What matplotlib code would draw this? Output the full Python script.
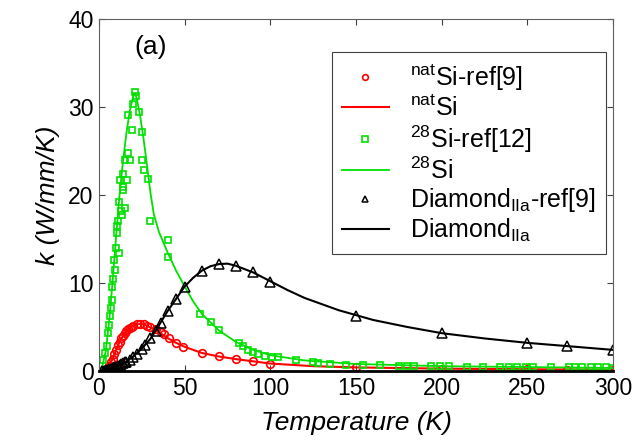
import numpy as np
import matplotlib
matplotlib.use("Agg")
import matplotlib.pyplot as plt

plt.rcParams.update({
    "font.family": "Liberation Sans",
    "mathtext.fontset": "custom",
    "mathtext.rm": "Liberation Sans",
    "mathtext.it": "Liberation Sans:italic",
    "mathtext.default": "rm",
})

RED = "#FF0000"
GREEN = "#00E000"
BLACK = "#000000"

# natSi, ref [9]
natsi_T_ref = [2, 3, 4, 5, 6, 7, 8, 9, 10, 11, 12, 13, 14, 15, 16, 17, 18, 19, 20,
               22, 24, 26, 28, 30, 33, 36, 38, 41, 45, 49, 60, 70, 80, 90, 100,
               150, 200, 250, 273, 300]
natsi_k_ref = [0.04, 0.1, 0.2, 0.32, 0.6, 1.0, 1.4, 1.9, 2.4, 2.9, 3.3, 3.7, 4.0, 4.3,
               4.55, 4.75, 4.9, 5.05, 5.15, 5.3, 5.35, 5.3, 5.15, 4.95, 4.8, 4.4, 4.2,
               3.7, 3.2, 2.75, 2.0, 1.65, 1.35, 1.1, 0.8, 0.41, 0.27, 0.2, 0.17, 0.15]

# natSi model
natsi_T = [0, 2, 4, 6, 8, 10, 12, 14, 16, 18, 20, 22, 24, 26, 28, 30, 35, 40, 45,
           50, 60, 70, 80, 90, 100, 125, 150, 200, 250, 300]
natsi_k = [0, 0.05, 0.2, 0.6, 1.4, 2.4, 3.3, 4.0, 4.55, 4.9, 5.15, 5.3, 5.35, 5.3,
           5.15, 4.95, 4.4, 3.75, 3.2, 2.75, 2.05, 1.65, 1.35, 1.1, 0.85, 0.55, 0.41,
           0.27, 0.2, 0.15]

# 28Si, ref [12]
si28_T_ref = [2.5, 3.5, 4.5, 5.4, 6.0, 6.4, 7.0, 7.4, 7.8, 8.3, 8.8, 9.3, 9.8, 10.3,
              10.8, 11.3, 11.9, 11.9, 12.3, 12.8, 13.2, 13.8, 13.8, 14.2, 15.2, 15.2,
              16.2, 17.1, 17.1, 18.1, 19.1, 19.7, 21.0, 21.4, 23.2, 25.3, 25.3, 26.3,
              28.6, 29.8, 40.5, 40.4, 59, 65.2, 70, 81.9, 84.2, 87.2, 90, 93, 97,
              100.8, 104.7, 114.8, 125, 128, 135, 144, 154, 164, 175, 180, 184, 194,
              199, 204, 215, 224, 234, 239, 244, 249, 253, 264, 274, 278, 282, 287,
              291, 296, 300]
si28_k_ref = [1.25, 2.0, 2.8, 4.3, 5.2, 6.2, 7.2, 9.6, 8.1, 10.5, 12.6, 11.5, 14.0, 15.7,
              16.5, 17.0, 13.4, 19.2, 21.7, 18.2, 17.7, 20.9, 22.4, 20.6, 18.5, 24.0,
              21.7, 24.8, 29.1, 24.0, 27.4, 30.3, 31.7, 31.2, 29.4, 27.1, 24.0, 22.8,
              21.8, 17.0, 14.9, 13.0, 6.5, 5.6, 4.7, 3.2, 2.8, 2.4, 2.2, 1.9, 1.7,
              1.6, 1.55, 1.3, 1.0, 0.95, 0.8, 0.7, 0.7, 0.65, 0.6, 0.6, 0.6, 0.55,
              0.55, 0.55, 0.5, 0.5, 0.5, 0.5, 0.5, 0.5, 0.5, 0.5, 0.4, 0.4, 0.4, 0.4,
              0.4, 0.4, 0.35]

# 28Si model
si28_T = [0, 2, 4, 6, 8, 10, 12, 14, 16, 18, 20, 21, 22, 24, 26, 28, 30, 32, 35, 40,
          45, 50, 55, 60, 70, 80, 90, 100, 120, 150, 200, 250, 300]
si28_k = [0, 0.6, 2.3, 5.8, 10.3, 15.3, 20.0, 23.8, 27.0, 29.6, 31.2, 31.5, 31.0,
          29.0, 26.4, 23.4, 20.3, 17.8, 15.8, 13.5, 11.4, 9.6, 7.9, 6.5, 4.6, 3.3,
          2.4, 1.8, 1.2, 0.8, 0.55, 0.45, 0.35]

# Diamond IIa, ref [9]
dia_T_ref = [2, 3, 4, 5, 6, 7, 8, 9, 10, 11, 12, 13, 14, 15, 16, 18, 20, 22, 25, 27,
             30, 33, 36, 40, 45, 50, 60, 70, 80, 90, 100, 150, 200, 250, 273, 300]
dia_k_ref = [0.02, 0.05, 0.09, 0.14, 0.2, 0.26, 0.33, 0.4, 0.48, 0.56, 0.65, 0.75,
             0.86, 0.97, 1.08, 1.3, 1.6, 1.95, 2.5, 2.9, 3.7, 4.6, 5.5, 6.8, 8.2,
             9.6, 11.4, 12.2, 11.9, 11.2, 10.1, 6.2, 4.3, 3.2, 2.8, 2.4]

# Diamond IIa model
dia_T = [0, 5, 10, 15, 20, 25, 30, 35, 40, 45, 50, 55, 60, 65, 70, 75, 80, 90, 100,
         110, 120, 140, 160, 180, 200, 225, 250, 275, 300]
dia_k = [0, 0.12, 0.45, 0.95, 1.65, 2.55, 3.65, 5.2, 6.8, 8.2, 9.6, 10.6, 11.4,
         11.9, 12.15, 12.2, 11.95, 11.2, 10.2, 9.2, 8.3, 6.9, 5.8, 5.0, 4.3, 3.7,
         3.2, 2.8, 2.4]

fig = plt.figure(figsize=(6.44, 4.41), dpi=100, facecolor="white")
ax = fig.add_axes([0.1537, 0.1587, 0.7983, 0.7983])

ax.plot(natsi_T_ref, natsi_k_ref, "o", ls="none", mfc="none", mec=RED, ms=5.5, mew=1.2,
        label=r"$^{nat}$Si-ref[9]")
ax.plot(natsi_T, natsi_k, "-", color=RED, lw=1.5, label=r"$^{nat}$Si")
ax.plot(si28_T_ref, si28_k_ref, "s", ls="none", mfc="none", mec=GREEN, ms=5.0, mew=1.2,
        label=r"$^{28}$Si-ref[12]")
ax.plot(si28_T, si28_k, "-", color=GREEN, lw=1.3, label=r"$^{28}$Si")
ax.plot(dia_T_ref, dia_k_ref, "^", ls="none", mfc="none", mec=BLACK, ms=6.5, mew=1.1,
        label=r"Diamond$_{\mathrm{IIa}}$-ref[9]")
ax.plot(dia_T, dia_k, "-", color=BLACK, lw=1.5, label=r"Diamond$_{\mathrm{IIa}}$")

ax.set_xlim(0, 300)
ax.set_ylim(0, 40)
ax.set_xticks(np.arange(0, 301, 50))
ax.set_yticks(np.arange(0, 41, 10))
ax.tick_params(direction="in", length=4, width=0.8, labelsize=16.5, color="#404040",
               top=True, right=True, pad=4)
for side in ["left", "right", "top"]:
    ax.spines[side].set_color("#606060")
    ax.spines[side].set_linewidth(0.8)
ax.spines["bottom"].set_color("black")
ax.spines["bottom"].set_linewidth(2.0)

ax.set_xlabel("Temperature (K)", fontsize=19, fontstyle="italic", labelpad=8)
ax.set_ylabel("k (W/mm/K)", fontsize=19, fontstyle="italic", labelpad=6)

ax.text(30, 36.8, "(a)", fontsize=19, ha="center", va="center")

leg = ax.legend(loc="upper right", bbox_to_anchor=(0.986, 0.906), borderaxespad=0,
                fontsize=18, numpoints=1, markerscale=0.75, handlelength=1.9,
                handletextpad=0.85, labelspacing=0.1, borderpad=0.4,
                fancybox=False, framealpha=1)
leg.get_frame().set_edgecolor("#404040")
leg.get_frame().set_linewidth(0.8)

fig.savefig("out.png", dpi=100, facecolor="white")
